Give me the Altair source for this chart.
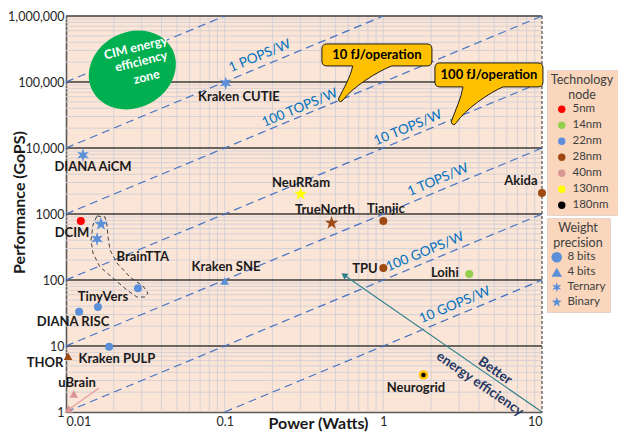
import altair as alt
import pandas as pd

# ---------------- data ----------------
NAMES = ["DCIM", "BrainTTA", "BrainTTA", "BrainTTA", "TinyVers", "DIANA RISC",
         "Kraken PULP", "THOR", "uBrain", "uBrain", "DIANA AiCM", "Kraken CUTIE",
         "Kraken SNE", "NeuRRam", "TrueNorth", "Tianjic", "TPU", "Loihi",
         "Neurogrid", "Akida"]
POWER = [0.0124, 0.0166, 0.0157, 0.0284, 0.0159, 0.0121, 0.0187, 0.0103, 0.0112,
         0.0104, 0.0128, 0.1015, 0.1, 0.301, 0.472, 1.0, 1.0, 3.48, 1.79, 10.0]
PERF = [780, 705, 418, 75, 39, 33, 9.7, 7.0, 1.87, 1.11, 7800, 96500, 96.6, 2010,
        731, 783, 152, 123, 3.64, 2080]
NODE = ["5nm", "22nm", "22nm", "22nm", "22nm", "22nm", "22nm", "28nm", "40nm",
        "40nm", "22nm", "22nm", "22nm", "130nm", "28nm", "28nm", "28nm", "14nm",
        "180nm", "28nm"]
PREC = ["8 bits", "Binary", "Ternary", "8 bits", "8 bits", "8 bits", "8 bits",
        "4 bits", "4 bits", "4 bits", "Ternary", "Ternary", "4 bits", "Binary",
        "Binary", "8 bits", "8 bits", "8 bits", "8 bits", "8 bits"]

LABEL_TEXT = ["DCIM", "BrainTTA", "TinyVers", "DIANA RISC", "Kraken PULP", "THOR",
              "uBrain", "DIANA AiCM", "Kraken CUTIE", "Kraken SNE", "NeuRRam",
              "TrueNorth", "Tianjic", "TPU", "Loihi", "Neurogrid", "Akida"]
LABEL_POWER = [0.01091, 0.0305, 0.0171, 0.01107, 0.02096, 0.00738, 0.01173, 0.0148,
               0.123, 0.1019, 0.303, 0.428, 1.038, 0.766, 2.44, 1.605, 7.36]
LABEL_PERF = [515, 223, 55.3, 23.1, 6.35, 5.6, 2.75, 5152, 59300, 157, 2950, 1150,
              1191, 147, 128, 2.31, 3162]

NODES = ["5nm", "14nm", "22nm", "28nm", "40nm", "130nm", "180nm"]
NODE_COLORS = ["#FF0000", "#92D050", "#5B8FD9", "#9E4A12", "#D99694", "#FFFF00", "#000000"]
PRECS = ["8 bits", "4 bits", "Ternary", "Binary"]

# efficiency (GOPS/W) reference lines
EFF_VALUES = [10, 100, 1e3, 1e4, 1e5, 1e6, 1e7]
EFF_LABELS = ["10 GOPS/W", "100 GOPS/W", "1 TOPS/W", "10 TOPS/W", "100 TOPS/W", "1 POPS/W"]
EFF_LABEL_POWER = [2.82, 1.83, 2.21, 1.43, 0.298, 0.1667]
EFF_LABEL_PERF = [41.8, 266, 3275, 20100, 40400, 248000]

# axis ticks and grid
X_TICKS = [0.01, 0.1, 1, 10]
Y_TICKS = [1, 10, 100, 1000, 10000, 100000, 1000000]
X_GRID = [m * 10.0 ** k for k in (-2, -1, 0) for m in range(1, 10) if not (k == -2 and m == 1)]
Y_MINOR = [m * 10.0 ** k for k in range(0, 6) for m in range(2, 10)]
Y_MAJOR = [10, 100, 1000, 10000, 100000, 1000000]

# BrainTTA dashed outline (log10 power, log10 perf)
OUT_LX = [-1.805, -1.754, -1.742, -1.735, -1.723, -1.679, -1.597, -1.515, -1.483,
          -1.502, -1.553, -1.616, -1.704, -1.786, -1.830, -1.842, -1.830, -1.805]
OUT_LY = [2.970, 2.955, 2.833, 2.652, 2.455, 2.258, 2.045, 1.909, 1.803, 1.742,
          1.742, 1.848, 2.030, 2.197, 2.409, 2.606, 2.833, 2.970]

# annotations
CIM_TEXT = ["CIM energy", "efficiency", "zone"]
CIM_TEXT_POWER = [0.0275, 0.0298, 0.0322]
CIM_TEXT_PERF = [330000, 205000, 119000]
CIM_POWER, CIM_PERF = 0.0262, 152000
CALLOUT_TEXT = ["10 fJ/operation", "100 fJ/operation"]
CALLOUT_POWER = [0.911, 4.63]
CALLOUT_PERF = [257000, 128000]
BETTER_TEXT = ["Better", "energy efficiency"]
BETTER_POWER = [5.05, 4.06]
BETTER_PERF = [4.2, 2.65]
ARROW_POWER = [10, 0.565]
ARROW_PERF = [1, 119]
UB_ARROW_POWER = [0.01615, 0.0103]
UB_ARROW_PERF = [2.31, 1.07]

# ---------------- shapes ----------------
STAR5 = ("M0,-1L0.235,-0.324L0.951,-0.309L0.38,0.124L0.588,0.809L0,0.4L-0.588,0.809"
         "L-0.38,0.124L-0.951,-0.309L-0.235,-0.324Z")
STAR6 = ("M0,-1L0.2,-0.346L0.866,-0.5L0.4,0L0.866,0.5L0.2,0.346L0,1L-0.2,0.346"
         "L-0.866,0.5L-0.4,0L-0.866,-0.5L-0.2,-0.346Z")
ELLIPSE = "M-1,0A1,0.84,0,1,0,1,0A1,0.84,0,1,0,-1,0Z"
CALLOUT1 = ("M-0.91,-0.2L0.91,-0.2Q1,-0.2,1,-0.11L1,0.11Q1,0.2,0.91,0.2L0.27,0.2"
            "C0,0.3,-0.45,0.6,-0.6,0.8Q-0.68,0.9,-0.7,0.8C-0.6,0.6,-0.48,0.4,-0.44,0.2"
            "L-0.91,0.2Q-1,0.2,-1,0.11L-1,-0.11Q-1,-0.2,-0.91,-0.2Z")
CALLOUT2 = ("M-0.91,-0.222L0.91,-0.222Q1,-0.222,1,-0.13L1,0.13Q1,0.222,0.91,0.222L0.26,0.222"
            "C0,0.33,-0.45,0.65,-0.6,0.88Q-0.66,0.97,-0.7,0.87C-0.62,0.65,-0.52,0.45,-0.48,0.222"
            "L-0.91,0.222Q-1,0.222,-1,0.13L-1,-0.13Q-1,-0.222,-0.91,-0.222Z")
PREC_SHAPES = ["circle", "triangle-up", STAR6, STAR5]
PREC_SIZES = [64, 75, 190, 200]

FONT = "Lato"
xs = alt.Scale(type="log", domain=[0.01, 10], nice=False)
ys = alt.Scale(type="log", domain=[1, 1000000], nice=False)

xaxis = alt.Axis(values=X_TICKS, labelExpr="format(datum.value, '~g')", grid=False,
                 ticks=False, domainColor="#595959", domainWidth=1.6, labelFontSize=12.5,
                 labelColor="#262626", labelFlush=True, labelPadding=3,
                 title="Power (Watts)", titleFontSize=16, titleFontWeight="bold",
                 titleColor="#1A1A1A", titleX=252, titleY=11, titleBaseline="middle",
                 labelFont=FONT, titleFont=FONT)
yaxis = alt.Axis(values=Y_TICKS,
                 labelExpr="datum.value >= 10000 ? format(datum.value, ',') : format(datum.value, 'd')",
                 grid=False, ticks=False, domainColor="#595959", domainWidth=1.6,
                 labelFontSize=12.5, labelColor="#262626", labelPadding=2,
                 title="Performance (GoPS)", titleFontSize=16, titleFontWeight="bold",
                 titleColor="#1A1A1A", titleX=-47, titleY=186, titleAngle=270,
                 titleBaseline="middle", titleAlign="center", labelFont=FONT, titleFont=FONT)


def X(field="power"):
    return alt.X(f"{field}:Q", scale=xs, axis=xaxis)


def Y(field="perf"):
    return alt.Y(f"{field}:Q", scale=ys, axis=yaxis)


def pts(p, q, **extra):
    d = {"power": p, "perf": q}
    d.update(extra)
    return pd.DataFrame(d)


# ---------------- layers ----------------
vgrid = alt.Chart(pd.DataFrame({"power": X_GRID})).mark_rule(
    color="#D6D1D6", strokeWidth=1).encode(x=X())
hgrid = alt.Chart(pd.DataFrame({"perf": Y_MINOR})).mark_rule(
    color="#D6D1D6", strokeWidth=1).encode(y=Y())
major = alt.Chart(pd.DataFrame({"perf": Y_MAJOR})).mark_rule(
    color="#3A3A3A", strokeWidth=1.3).encode(y=Y())
rborder = alt.Chart(pd.DataFrame({"power": [10]})).mark_rule(
    color="#595959", strokeWidth=1.3, strokeDash=[3, 2]).encode(x=X())

rows = []
for e in EFF_VALUES:
    p0 = max(0.01, 1.0 / e)
    p1 = min(10.0, 1e6 / e)
    rows.append({"eff": e, "power": p0, "perf": e * p0})
    rows.append({"eff": e, "power": p1, "perf": e * p1})
efflines = alt.Chart(pd.DataFrame(rows)).mark_line(
    color="#4472C4", strokeWidth=1.2, strokeDash=[8, 5]).encode(
    x=X(), y=Y(), detail="eff:N")
efftext = alt.Chart(pts(EFF_LABEL_POWER, EFF_LABEL_PERF, t=EFF_LABELS)).mark_text(
    angle=337.4, color="#0070C0", fontSize=13.5, font=FONT).encode(
    x=X(), y=Y(), text="t:N")

outline = alt.Chart(pts([10 ** v for v in OUT_LX], [10 ** v for v in OUT_LY],
                        i=list(range(len(OUT_LX))))).mark_line(
    color="#404040", strokeWidth=1, strokeDash=[4, 3]).encode(
    x=X(), y=Y(), order="i:Q")

ellipse = alt.Chart(pts([CIM_POWER], [CIM_PERF])).mark_point(
    shape=ELLIPSE, size=8100, angle=332, filled=True, color="#00B050", opacity=1).encode(
    x=X(), y=Y())
cimtext = alt.Chart(pts(CIM_TEXT_POWER, CIM_TEXT_PERF, t=CIM_TEXT)).mark_text(
    angle=346, color="white", fontWeight="bold", fontSize=12.5, font=FONT).encode(
    x=X(), y=Y(), text="t:N")

call1 = alt.Chart(pts([CALLOUT_POWER[0]], [CALLOUT_PERF[0]])).mark_point(
    shape=CALLOUT1, size=12100, filled=True, color="#FFC000", stroke="#1A1A1A",
    strokeWidth=1, opacity=1).encode(x=X(), y=Y())
call2 = alt.Chart(pts([CALLOUT_POWER[1]], [CALLOUT_PERF[1]])).mark_point(
    shape=CALLOUT2, size=11664, filled=True, color="#FFC000", stroke="#1A1A1A",
    strokeWidth=1, opacity=1).encode(x=X(), y=Y())
calltext = alt.Chart(pts(CALLOUT_POWER, CALLOUT_PERF, t=CALLOUT_TEXT)).mark_text(
    color="#000000", fontWeight="bold", fontSize=13, font=FONT).encode(
    x=X(), y=Y(), text="t:N")

arrow = alt.Chart(pts(ARROW_POWER, ARROW_PERF)).mark_line(
    color="#2E7F8C", strokeWidth=1.1).encode(x=X(), y=Y())
arrowhead = alt.Chart(pts([ARROW_POWER[1]], [ARROW_PERF[1]])).mark_point(
    shape="triangle-up", angle=305, size=50, filled=True, color="#2E7F8C", opacity=1).encode(
    x=X(), y=Y())
better = alt.Chart(pts(BETTER_POWER, BETTER_PERF, t=BETTER_TEXT)).mark_text(
    angle=34.7, color="#1F3864", fontWeight="bold", fontSize=13.5, font=FONT).encode(
    x=X(), y=Y(), text="t:N")

ubarrow = alt.Chart(pts(UB_ARROW_POWER, UB_ARROW_PERF)).mark_line(
    color="#E29C9A", strokeWidth=1.2).encode(x=X(), y=Y())
ubhead = alt.Chart(pts([UB_ARROW_POWER[1]], [UB_ARROW_PERF[1]])).mark_point(
    shape="triangle-up", angle=235, size=35, filled=True, color="#E29C9A", opacity=1).encode(
    x=X(), y=Y())

devices = pd.DataFrame({"name": NAMES, "power": POWER, "perf": PERF, "node": NODE, "prec": PREC,
                        "sz": [PREC_SIZES[PRECS.index(p)] for p in PREC]})

legend_common = dict(orient="none", fillColor="#F9D6BC", strokeColor="#E3D3CA",
                     padding=4, labelFontSize=11.5, titleFontSize=12.5,
                     titleFontWeight="normal", titleAlign="center", titleAnchor="middle",
                     titleLineHeight=15, titleColor="#404040", labelColor="#404040",
                     labelFont=FONT, titleFont=FONT, labelOffset=5, titlePadding=2)

points = alt.Chart(devices).transform_filter("datum.name != 'Neurogrid'").mark_point(
    filled=True, opacity=1).encode(
    x=X(), y=Y(),
    color=alt.Color("node:N", scale=alt.Scale(domain=NODES, range=NODE_COLORS),
                    legend=alt.Legend(title=["Technology", "node"], legendX=481, legendY=54,
                                      symbolType="circle", symbolSize=55, rowPadding=3,
                                      **legend_common)),
    shape=alt.Shape("prec:N", scale=alt.Scale(domain=PRECS, range=PREC_SHAPES),
                    legend=alt.Legend(title=["Weight", "precision"], legendX=481, legendY=202,
                                      symbolFillColor="#5B8FD9", symbolStrokeColor="#5B8FD9",
                                      symbolStrokeWidth=0, symbolSize=110, rowPadding=2,
                                      **legend_common)),
    size=alt.Size("sz:Q", scale=None),
)

neuro = devices[devices.name == "Neurogrid"]
neuro_ring = alt.Chart(neuro).mark_point(shape="circle", size=85, filled=True,
                                         color="#FFC000", opacity=1).encode(x=X(), y=Y())
neuro_dot = alt.Chart(neuro).mark_point(shape="circle", size=20, filled=True,
                                        color="#000000", opacity=1).encode(x=X(), y=Y())

labels = alt.Chart(pts(LABEL_POWER, LABEL_PERF, t=LABEL_TEXT)).mark_text(
    fontWeight="bold", fontSize=13, color="#1A1A1A", font=FONT).encode(
    x=X(), y=Y(), text="t:N")

chart = alt.layer(
    vgrid, hgrid, major, rborder, efflines, outline, ellipse, cimtext,
    call1, call2, calltext, arrow, arrowhead, better, ubarrow, ubhead,
    efftext, points, neuro_ring, neuro_dot, labels,
).properties(
    width=476, height=396,
    autosize=alt.AutoSizeParams(type="none"),
    padding={"left": 58, "top": 8, "right": 76, "bottom": 20},
).configure(font=FONT).configure_view(fill="#FBE5D6", stroke=None)

chart.save("out.html", embed_options={"renderer": "svg", "actions": False})
